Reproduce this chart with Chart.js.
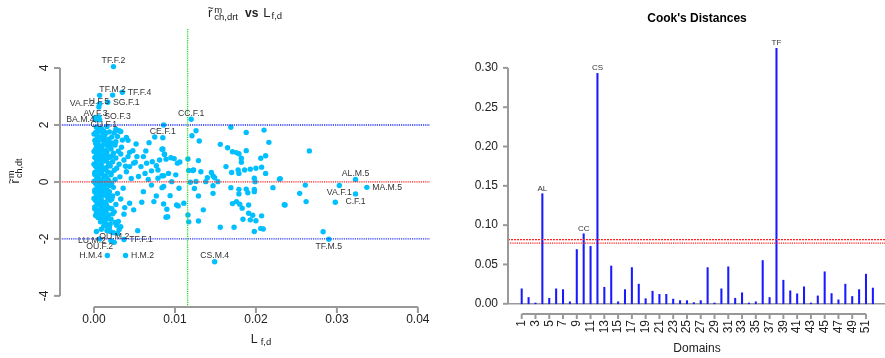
<!DOCTYPE html>
<html>
<head>
<meta charset="utf-8">
<script src="https://cdn.jsdelivr.net/npm/chart.js@4.4.0/dist/chart.umd.min.js"></script>
<style>
  html, body { margin: 0; padding: 0; background: #fff; overflow: hidden; }
  #wrap { position: relative; width: 885px; height: 358px; overflow: hidden; }
  #leftChart { position: absolute; left: 0; top: 0; }
  #rightChart { position: absolute; left: 442px; top: 0; }
</style>
</head>
<body>
<div id="wrap">
  <canvas id="leftChart" width="442" height="358" style="width:442px;height:358px"></canvas>
  <canvas id="rightChart" width="443" height="358" style="width:443px;height:358px"></canvas>
</div>
<script>
// ---- data: residuals vs leverage (left panel), [leverage, residual]
const scatterPoints = [
  // dense cluster at low leverage
  [0.0003,1.92],[0.0009,1.88],[0.0016,1.95],[0.0027,1.85],
  [0.0002,1.74],[0.0006,1.78],[0.0011,1.70],[0.0019,1.76],[0.0031,1.80],
  [0.0004,1.62],[0.0008,1.57],[0.0013,1.64],[0.0022,1.58],[0.0029,1.60],
  [0.0001,1.46],[0.0005,1.42],[0.0010,1.49],[0.0015,1.44],[0.0020,1.38],[0.0042,1.46],
  [0.0003,1.30],[0.0007,1.27],[0.0012,1.33],[0.0017,1.25],[0.0026,1.30],[0.0034,1.22],
  [0.0002,1.15],[0.0006,1.12],[0.0009,1.18],[0.0014,1.10],[0.0021,1.16],[0.0030,1.08],
  [0.0004,1.00],[0.0008,0.97],[0.0011,1.03],[0.0016,0.95],[0.0024,1.01],[0.0033,0.98],[0.0044,1.04],
  [0.0001,0.86],[0.0005,0.83],[0.0010,0.88],[0.0013,0.80],[0.0019,0.86],[0.0027,0.84],
  [0.0003,0.70],[0.0007,0.67],[0.0012,0.73],[0.0018,0.65],[0.0023,0.71],[0.0031,0.62],
  [0.0002,0.55],[0.0006,0.52],[0.0009,0.58],[0.0015,0.50],[0.0020,0.56],[0.0028,0.48],[0.0039,0.55],
  [0.0004,0.40],[0.0008,0.37],[0.0011,0.43],[0.0017,0.35],[0.0025,0.41],
  [0.0001,0.26],[0.0005,0.23],[0.0010,0.28],[0.0014,0.20],[0.0021,0.25],[0.0032,0.18],
  [0.0003,0.10],[0.0007,0.07],[0.0012,0.13],[0.0018,0.05],[0.0026,0.09],[0.0046,0.12],
  [0.0002,-0.05],[0.0006,-0.08],[0.0009,-0.02],[0.0015,-0.10],[0.0022,-0.04],
  [0.0004,-0.20],[0.0008,-0.23],[0.0011,-0.17],[0.0016,-0.26],[0.0024,-0.19],[0.0036,-0.22],
  [0.0001,-0.35],[0.0005,-0.38],[0.0010,-0.32],[0.0013,-0.41],[0.0019,-0.34],[0.0029,-0.40],
  [0.0003,-0.50],[0.0007,-0.53],[0.0012,-0.47],[0.0017,-0.56],[0.0023,-0.49],
  [0.0002,-0.65],[0.0006,-0.68],[0.0009,-0.62],[0.0014,-0.71],[0.0020,-0.64],[0.0033,-0.60],
  [0.0004,-0.80],[0.0008,-0.83],[0.0011,-0.77],[0.0016,-0.86],[0.0027,-0.79],
  [0.0001,-0.95],[0.0005,-0.98],[0.0010,-0.92],[0.0015,-1.01],[0.0022,-0.94],[0.0038,-0.90],
  [0.0003,-1.10],[0.0007,-1.13],[0.0012,-1.07],[0.0018,-1.16],[0.0025,-1.05],
  [0.0005,-1.25],[0.0009,-1.28],[0.0013,-1.22],[0.0021,-1.31],
  [0.0008,-1.40],[0.0014,-1.45],[0.0011,-1.36],[0.0026,-1.42],
  [0.0012,-1.55],[0.0019,-1.60],[0.0028,-1.52],
  [0.0016,-1.70],[0.0024,-1.78],[0.0031,-1.67],
  [0.0000,1.68],[0.0004,1.52],[0.0002,1.36],[0.0006,1.21],[0.0000,1.07],[0.0003,0.92],
  [0.0007,0.78],[0.0000,0.62],[0.0004,0.47],[0.0001,0.33],[0.0005,0.17],[0.0000,0.02],
  [0.0004,-0.12],[0.0001,-0.28],[0.0005,-0.43],[0.0000,-0.58],[0.0004,-0.73],[0.0001,-0.88],
  [0.0006,-1.03],[0.0002,-1.18],[0.0007,-0.05],[0.0009,0.35],[0.0008,0.62],[0.0010,1.25],
  [0.0012,1.57],[0.0009,-0.45],[0.0012,-0.92],[0.0008,-1.20],[0.0013,0.05],[0.0011,0.97],
  [0.0015,1.72],[0.0018,1.50],[0.0014,1.37],[0.0020,1.22],[0.0016,1.06],[0.0022,0.90],
  [0.0015,0.76],[0.0019,0.60],[0.0013,0.45],[0.0021,0.31],[0.0016,0.14],[0.0020,-0.12],
  [0.0014,-0.27],[0.0018,-0.45],[0.0022,-0.60],[0.0015,-0.78],[0.0019,-0.92],[0.0016,-1.30],
  [0.0023,-1.12],[0.0020,-1.48],
  // spread towards higher leverage
  [0.0086,2.00],[0.0169,1.92],[0.0126,1.80],[0.0121,1.62],[0.0130,1.44],[0.0188,1.74],
  [0.0210,1.82],[0.0216,1.39],[0.0156,1.32],[0.0165,1.20],[0.0176,1.03],[0.0179,0.99],
  [0.0188,1.10],[0.0182,0.83],[0.0182,0.69],[0.0171,1.06],[0.0212,0.92],[0.0206,0.83],
  [0.0085,1.16],[0.0087,0.98],[0.0081,0.77],[0.0089,0.80],[0.0095,0.85],[0.0099,0.82],
  [0.0103,0.66],[0.0106,0.70],[0.0116,0.81],[0.0129,0.75],[0.0163,0.54],[0.0178,0.42],
  [0.0186,0.42],[0.0193,0.45],[0.0200,0.48],[0.0207,0.52],[0.0212,0.30],[0.0179,0.30],
  [0.0170,0.33],[0.0123,0.42],[0.0132,0.36],[0.0145,0.33],[0.0147,0.21],[0.0140,0.15],
  [0.0138,0.01],[0.0149,0.15],[0.0153,0.01],[0.0086,0.22],[0.0101,0.25],[0.0096,0.01],
  [0.0119,-0.01],[0.0126,0.02],[0.0198,0.13],[0.0199,0.01],[0.0229,0.10],[0.0086,-0.16],
  [0.0105,-0.22],[0.0124,-0.23],[0.0147,-0.13],[0.0169,-0.20],[0.0179,-0.26],[0.0188,-0.25],
  [0.0198,-0.26],[0.0221,-0.20],[0.0179,-0.42],[0.0190,-0.38],[0.0198,-0.34],[0.0147,-0.40],
  [0.0129,-0.49],[0.0176,-0.69],[0.0171,-0.76],[0.0180,-0.78],[0.0191,-0.81],[0.0183,-0.92],
  [0.0086,-0.77],[0.0102,-0.81],[0.0111,-0.75],[0.0135,-0.98],[0.0089,-1.24],[0.0116,-1.16],
  [0.0117,-1.40],[0.0129,-1.37],[0.0191,-1.10],[0.0196,-1.17],[0.0207,-1.19],[0.0184,-1.31],
  [0.0193,-1.33],[0.0200,-1.36],[0.0156,-1.59],[0.0173,-1.59],[0.0198,-1.74],[0.0206,-1.63],
  [0.0209,-1.65],[0.0236,-0.81],[0.0266,1.09],[0.0230,0.11],[0.0261,-0.11],[0.0254,-0.40],
  [0.0262,-0.69],[0.0235,-0.80],[0.0298,-0.71],[0.0283,-1.75],
  [0.0075,1.58],[0.0068,1.38],[0.0052,1.33],[0.0084,1.15],[0.0064,1.09],[0.0061,0.89],
  [0.0087,0.96],[0.0033,1.77],[0.0025,1.73],[0.0040,1.56],[0.0035,1.47],[0.0027,1.41],
  [0.0023,1.36],[0.0048,1.10],[0.0053,0.89],[0.0042,0.89],[0.0037,0.77],[0.0049,0.66],
  [0.0058,0.54],[0.0072,0.71],[0.0077,0.57],[0.0084,0.22],[0.0071,0.39],[0.0063,0.30],
  [0.0044,0.54],[0.0051,0.69],[0.0065,0.66],[0.0079,0.42],[0.0092,0.30],[0.0040,0.36],
  [0.0055,0.19],[0.0067,0.09],[0.0079,0.13],
  [0.0071,-0.11],[0.0084,-0.20],[0.0061,-0.34],[0.0077,-0.49],[0.0074,-0.69],[0.0090,-0.96],
  [0.0091,-1.22],[0.0059,-0.71],[0.0049,-0.98],[0.0044,-0.75],[0.0037,-1.13],[0.0030,-1.39],
  [0.0033,-1.57],[0.0029,-1.80],[0.0020,-1.74],[0.0018,-1.57],[0.0009,-1.66],[0.0003,-1.74],
  [0.0054,-1.71],[0.0104,-0.84],[0.0094,-0.48],[0.0117,0.40],[0.0122,0.40],
  [0.0001,2.26],[0.0007,3.04]
];

// labelled observations
const labelNames = ['TF.F.2','TF.M.2','TF.F.4','SG.F.1','H.F.5','VA.F.2','AV.F.3','SO.F.3','BA.M.4','CU.F.1',
  'CE.F.1','CC.F.1','AL.M.5','MA.M.5','VA.F.1','C.F.1','TF.M.5','CS.M.4','H.M.4','H.M.2',
  'OU.M.2','LU.M.2','TF.F.1','OU.F.2'];
const labelLev = [0.0024,0.0023,0.0035,0.0017,0.0006,0.0007,0.0002,0.0006,0.0007,0.0012,
  0.0085,0.0120,0.0323,0.0337,0.0303,0.0323,0.0290,0.0149,0.00165,0.0039,
  0.0025,0.0021,0.0037,0.0007];
const labelRes = [4.05,3.05,3.15,2.80,2.63,2.75,2.19,2.28,2.18,1.79,
  1.55,2.20,0.09,-0.19,-0.12,-0.42,-2.01,-2.80,-2.58,-2.58,
  -2.12,-2.06,-2.02,-2.00];
// R text() pos: 1 below, 2 left, 3 above, 4 right
const labelPos = [3,3,4,4,3,2,3,4,2,3, 3,3,3,4,1,1,1,3,2,4, 3,2,4,1];

const leftXTicks = [0, 0.01, 0.02, 0.03, 0.04];
const leftYTicks = [-4, -2, 0, 2, 4];
const leverageCut = 0.01156;

// ---- data: Cook's distances (right panel)
const domains = [1,2,3,4,5,6,7,8,9,10,11,12,13,14,15,16,17,18,19,20,21,22,23,24,25,26,
  27,28,29,30,31,32,33,34,35,36,37,38,39,40,41,42,43,44,45,46,47,48,49,50,51,52];
const cooksD = [0.019,0.008,0.001,0.140,0.007,0.019,0.018,0.0025,0.069,0.089,0.073,0.293,
  0.021,0.048,0.0025,0.018,0.046,0.025,0.0065,0.016,0.012,0.012,0.006,0.004,0.004,0.0015,
  0.004,0.046,0.001,0.019,0.047,0.007,0.014,0.001,0.0025,0.055,0.008,0.325,0.030,0.0165,
  0.0127,0.0216,0.001,0.010,0.0407,0.013,0.005,0.025,0.0093,0.018,0.0377,0.020];
const cooksNames = { 4: 'AL', 10: 'CC', 12: 'CS', 38: 'TF' };
const cooksCutoffs = [0.0817, 0.0771];
const rightYTicks = [0, 0.05, 0.10, 0.15, 0.20, 0.25, 0.30];
const rightXTicks = [1,3,5,7,9,11,13,15,17,19,21,23,25,27,29,31,33,35,37,39,41,43,45,47,49,51];

// ---- helpers
const FAMILY = '"Liberation Sans", Arial, Helvetica, sans-serif';
const AXIS_GRAY = '#999999';
const TEXT_COL = '#222222';
function font(size, bold) { return (bold ? 'bold ' : '') + size + 'px ' + FAMILY; }

function line(ctx, x1, y1, x2, y2) {
    ctx.beginPath();
    ctx.moveTo(x1, y1);
    ctx.lineTo(x2, y2);
    ctx.stroke();
}

// dotted reference line
function dotted(ctx, x1, y1, x2, y2, color, dash) {
    ctx.save();
    ctx.strokeStyle = color;
    ctx.lineWidth = 1.3;
    ctx.setLineDash(dash);
    line(ctx, x1, y1, x2, y2);
    ctx.restore();
}

// width of one math item
function itemWidth(ctx, it) {
    if (it.gap) return it.gap;
    if (it.stack) {
        ctx.font = font(it.size);
        return Math.max(ctx.measureText(it.sup).width, ctx.measureText(it.sub).width);
    }
    ctx.font = font(it.size, it.bold);
    return ctx.measureText(it.t).width;
}

// draws plotmath-like text centred on cx, baseline given
function drawMath(ctx, items, cx, baseline) {
    const widths = items.map(it => itemWidth(ctx, it));
    const total = widths.reduce((a, b) => a + b, 0);
    let x = cx - total / 2;
    ctx.textAlign = 'left';
    ctx.textBaseline = 'alphabetic';
    ctx.fillStyle = TEXT_COL;
    items.forEach((it, i) => {
        if (it.stack) {
            ctx.font = font(it.size);
            ctx.fillText(it.sup, x, baseline + it.up);
            ctx.fillText(it.sub, x, baseline + it.down);
        } else if (it.t) {
            ctx.font = font(it.size, it.bold);
            ctx.fillText(it.t, x, baseline + (it.dy || 0));
            if (it.tilde) {
                ctx.font = font(it.size * 0.8);
                ctx.textAlign = 'center';
                ctx.fillText('~', x + widths[i] / 2 + 0.5, baseline - it.size * 0.38);
                ctx.textAlign = 'left';
            }
        }
        x += widths[i];
    });
}

// ---- left panel decorations
const leftDecor = {
    id: 'leftDecor',
    afterDatasetsDraw(chart) {
        const { ctx, chartArea: a, scales: { x, y } } = chart;
        ctx.save();

        // reference lines
        dotted(ctx, a.left, y.getPixelForValue(2), a.right, y.getPixelForValue(2), '#2233ff', [1.2, 1]);
        dotted(ctx, a.left, y.getPixelForValue(-2), a.right, y.getPixelForValue(-2), '#2233ff', [1.2, 1]);
        dotted(ctx, a.left, y.getPixelForValue(0), a.right, y.getPixelForValue(0), '#ff2222', [1.2, 1]);
        const vx = x.getPixelForValue(leverageCut);
        dotted(ctx, vx, a.top, vx, a.bottom, '#22dd22', [1.2, 1]);

        // axes
        ctx.strokeStyle = AXIS_GRAY;
        ctx.lineWidth = 2;
        line(ctx, a.left, y.getPixelForValue(leftYTicks[0]), a.left, y.getPixelForValue(leftYTicks[leftYTicks.length - 1]));
        leftYTicks.forEach(v => {
            const py = y.getPixelForValue(v);
            line(ctx, a.left - 6, py, a.left, py);
        });
        line(ctx, x.getPixelForValue(leftXTicks[0]), a.bottom, x.getPixelForValue(leftXTicks[leftXTicks.length - 1]), a.bottom);
        leftXTicks.forEach(v => {
            const px = x.getPixelForValue(v);
            line(ctx, px, a.bottom, px, a.bottom + 6);
        });

        // tick labels
        ctx.fillStyle = TEXT_COL;
        ctx.font = font(12);
        ctx.textAlign = 'center';
        ctx.textBaseline = 'alphabetic';
        leftXTicks.forEach(v => ctx.fillText(v.toFixed(2), x.getPixelForValue(v), a.bottom + 16));
        leftYTicks.forEach(v => {
            ctx.save();
            ctx.translate(a.left - 12, y.getPixelForValue(v));
            ctx.rotate(-Math.PI / 2);
            ctx.fillText(String(v), 0, 0);
            ctx.restore();
        });

        // point labels
        ctx.font = font(8.7);
        ctx.fillStyle = '#333333';
        labelNames.forEach((name, i) => {
            const px = x.getPixelForValue(labelLev[i]);
            const py = y.getPixelForValue(labelRes[i]);
            const p = labelPos[i];
            if (p === 3) { ctx.textAlign = 'center'; ctx.textBaseline = 'alphabetic'; ctx.fillText(name, px, py - 3.5); }
            if (p === 1) { ctx.textAlign = 'center'; ctx.textBaseline = 'top'; ctx.fillText(name, px, py + 3); }
            if (p === 2) { ctx.textAlign = 'right'; ctx.textBaseline = 'middle'; ctx.fillText(name, px - 5, py); }
            if (p === 4) { ctx.textAlign = 'left'; ctx.textBaseline = 'middle'; ctx.fillText(name, px + 5.3, py); }
        });

        // title
        const cx = (a.left + a.right) / 2;
        drawMath(ctx, [
            { t: 'r', size: 13, tilde: true },
            { gap: 2 },
            { stack: true, sup: 'm', sub: 'ch,drt', size: 9.5, up: -4, down: 3 },
            { gap: 7 },
            { t: 'vs', size: 12, bold: true },
            { gap: 5 },
            { t: 'L', size: 13 },
            { gap: 1 },
            { t: 'f,d', size: 9.5, dy: 2 }
        ], cx, 17);

        // x label
        drawMath(ctx, [
            { t: 'L', size: 12.5 },
            { gap: 3 },
            { t: 'f,d', size: 9.5, dy: 2 }
        ], 261, 343);

        // y label (rotated)
        ctx.save();
        ctx.translate(19, 0);
        ctx.rotate(-Math.PI / 2);
        drawMath(ctx, [
            { t: 'r', size: 12.5, tilde: true },
            { gap: 1.5 },
            { stack: true, sup: 'm', sub: 'ch,dt', size: 9, up: -5, down: 2.5 }
        ], -171, 0);
        ctx.restore();

        ctx.restore();
    }
};

new Chart(document.getElementById('leftChart'), {
    type: 'scatter',
    data: {
        datasets: [{
            data: scatterPoints.map(p => ({ x: p[0], y: p[1] }))
                .concat(labelNames.map((n, i) => ({ x: labelLev[i], y: labelRes[i] }))),
            pointRadius: 2.7,
            pointBackgroundColor: '#00bfff',
            pointBorderWidth: 0
        }]
    },
    options: {
        responsive: false,
        animation: false,
        devicePixelRatio: 1,
        layout: { padding: { left: 60, right: 12, top: 29, bottom: 51 } },
        plugins: { legend: { display: false }, tooltip: { enabled: false } },
        scales: {
            x: { type: 'linear', min: -0.0042, max: 0.0415, display: false },
            y: { type: 'linear', min: -4.39, max: 5.37, display: false }
        }
    },
    plugins: [leftDecor]
});

// ---- right panel decorations
const rightDecor = {
    id: 'rightDecor',
    beforeDatasetsDraw(chart) {
        const { ctx, chartArea: a, scales: { y } } = chart;
        ctx.save();
        ctx.strokeStyle = AXIS_GRAY;
        ctx.lineWidth = 1.5;
        line(ctx, a.left, y.getPixelForValue(0), a.right, y.getPixelForValue(0));
        ctx.restore();
    },
    afterDatasetsDraw(chart) {
        const { ctx, chartArea: a, scales: { x, y } } = chart;
        ctx.save();

        dotted(ctx, a.left, y.getPixelForValue(cooksCutoffs[0]), a.right, y.getPixelForValue(cooksCutoffs[0]), '#ff2222', [2, 1]);
        dotted(ctx, a.left, y.getPixelForValue(cooksCutoffs[1]), a.right, y.getPixelForValue(cooksCutoffs[1]), '#ff2222', [1.2, 1]);

        // axes
        ctx.strokeStyle = AXIS_GRAY;
        ctx.lineWidth = 2;
        line(ctx, a.left, y.getPixelForValue(0), a.left, y.getPixelForValue(0.30));
        rightYTicks.forEach(v => {
            const py = y.getPixelForValue(v);
            line(ctx, a.left - 5, py, a.left, py);
        });
        line(ctx, x.getPixelForValue(1), a.bottom, x.getPixelForValue(51), a.bottom);
        rightXTicks.forEach(v => {
            const px = x.getPixelForValue(v);
            line(ctx, px, a.bottom, px, a.bottom + 5);
        });

        ctx.fillStyle = TEXT_COL;
        ctx.font = font(12);
        ctx.textAlign = 'right';
        ctx.textBaseline = 'middle';
        rightYTicks.forEach(v => ctx.fillText(v.toFixed(2), a.left - 10, y.getPixelForValue(v)));
        rightXTicks.forEach(v => {
            ctx.save();
            ctx.translate(x.getPixelForValue(v), a.bottom + 6);
            ctx.rotate(-Math.PI / 2);
            ctx.textAlign = 'right';
            ctx.textBaseline = 'middle';
            ctx.fillText(String(v), 0, 0);
            ctx.restore();
        });

        // names of influential domains
        ctx.font = font(8);
        ctx.fillStyle = '#333333';
        ctx.textAlign = 'center';
        ctx.textBaseline = 'alphabetic';
        Object.keys(cooksNames).forEach(k => {
            const d = Number(k);
            ctx.fillText(cooksNames[k], x.getPixelForValue(d), y.getPixelForValue(cooksD[d - 1]) - 3);
        });

        // title and x label
        const cx = 697 - 442;
        ctx.fillStyle = '#000000';
        ctx.font = font(12, true);
        ctx.fillText("Cook's Distances", cx, 22);
        ctx.fillStyle = TEXT_COL;
        ctx.font = font(12);
        ctx.fillText('Domains', cx, 352);

        ctx.restore();
    }
};

new Chart(document.getElementById('rightChart'), {
    type: 'bar',
    data: {
        datasets: [{
            data: domains.map((d, i) => ({ x: d, y: cooksD[i] })),
            backgroundColor: '#1a1aff',
            borderWidth: 0,
            barThickness: 1.4
        }]
    },
    options: {
        responsive: false,
        animation: false,
        devicePixelRatio: 1,
        layout: { padding: { left: 66, right: 0, top: 38, bottom: 44 } },
        plugins: { legend: { display: false }, tooltip: { enabled: false } },
        scales: {
            x: { type: 'linear', min: -0.99, max: 53.76, offset: false, display: false },
            y: { type: 'linear', min: -0.013, max: 0.338, display: false }
        }
    },
    plugins: [rightDecor]
});
</script>
</body>
</html>
